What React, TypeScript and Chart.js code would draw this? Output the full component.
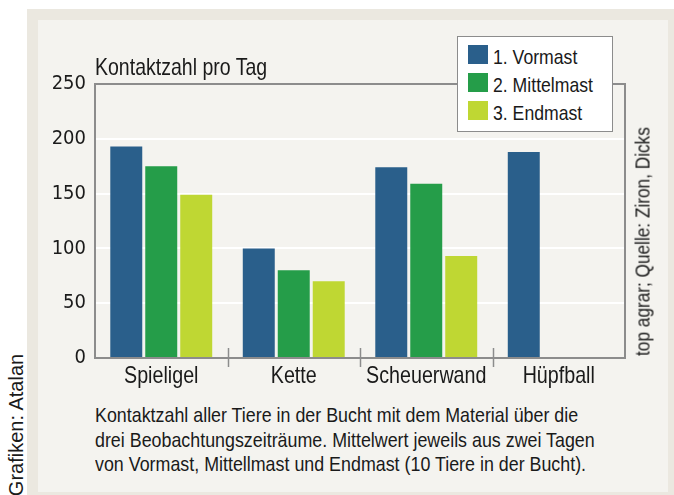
import React, { useEffect, useRef } from "react";
import { Chart, registerables } from "chart.js";

Chart.register(...registerables);

const CATEGORIES = ["Spieligel", "Kette", "Scheuerwand", "Hüpfball"];
const SERIES_LABELS = ["1. Vormast", "2. Mittelmast", "3. Endmast"];
const VORMAST = [193, 100, 174, 188];
const MITTELMAST = [175, 80, 159, null];
const ENDMAST = [149, 70, 93, null];
const Y_MIN = 0;
const Y_MAX = 250;
const Y_STEP = 50;
const COLORS = ["#2a5f8b", "#259d49", "#bfd733"];
const AXIS_TITLE = "Kontaktzahl pro Tag";
const CAPTION = [
  "Kontaktzahl aller Tiere in der Bucht mit dem Material über die",
  "drei Beobachtungszeiträume. Mittelwert jeweils aus zwei Tagen",
  "von Vormast, Mittellmast und Endmast (10 Tiere in der Bucht).",
];
const SOURCE = "top agrar; Quelle: Ziron, Dicks";
const CREDIT = "Grafiken: Atalan";

const SANS = "'Liberation Sans', Arial, sans-serif";
const COND = "'DejaVu Sans Condensed', 'DejaVu Sans', sans-serif";
const SQUEEZE = 0.82;
const TEXT = "#1a1a1a";
const BORDER = "#8c8c8c";

// Narrow rendering of Liberation Sans labels on the canvas (Helvetica Condensed look)
const narrowTextPlugin = {
  id: "narrowText",
  beforeDraw(chart: any) {
    const ctx = chart.ctx;
    if (ctx.__narrowPatched) return;
    const orig = ctx.fillText.bind(ctx);
    ctx.fillText = (t: string, x: number, y: number) => {
      if (String(ctx.font).indexOf("Liberation") >= 0) {
        ctx.save();
        ctx.translate(x, y);
        ctx.scale(SQUEEZE, 1);
        orig(t, 0, 0);
        ctx.restore();
      } else {
        orig(t, x, y);
      }
    };
    ctx.__narrowPatched = true;
  },
};

const framePlugin = {
  id: "frame",
  afterDraw(chart: any) {
    const { ctx, chartArea } = chart;
    const x = chart.scales.x;
    ctx.save();
    ctx.strokeStyle = BORDER;
    ctx.lineWidth = 2;
    ctx.strokeRect(chartArea.left, chartArea.top, chartArea.right - chartArea.left, chartArea.bottom - chartArea.top);
    ctx.lineWidth = 1.5;
    for (let i = 0; i < CATEGORIES.length - 1; i++) {
      const px = Math.round(x.getPixelForValue(i + 0.5)) + 0.5;
      ctx.beginPath();
      ctx.moveTo(px, chartArea.bottom - 10);
      ctx.lineTo(px, chartArea.bottom + 9);
      ctx.stroke();
    }
    ctx.restore();
  },
};

function Narrow({ children, size, lh, sx }: any) {
  return (
    <span
      style={{
        display: "inline-block",
        fontFamily: SANS,
        fontSize: size,
        lineHeight: (lh || size) + "px",
        transform: `scaleX(${sx || SQUEEZE})`,
        transformOrigin: "left center",
        whiteSpace: "nowrap",
        color: TEXT,
      }}
    >
      {children}
    </span>
  );
}

function VText({ text, cx, cy, size, sx }: any) {
  const w = 320;
  const h = size;
  return (
    <div
      style={{
        position: "absolute",
        left: cx - w / 2,
        top: cy - h / 2,
        width: w,
        height: h,
        lineHeight: h + "px",
        fontSize: size,
        fontFamily: SANS,
        color: TEXT,
        textAlign: "center",
        whiteSpace: "nowrap",
        transform: `rotate(-90deg) scaleX(${sx})`,
      }}
    >
      {text}
    </div>
  );
}

export default function App() {
  const ref = useRef<HTMLCanvasElement>(null);

  useEffect(() => {
    if (!ref.current) return;
    const data = [VORMAST, MITTELMAST, ENDMAST];
    const chart = new Chart(ref.current, {
      type: "bar",
      data: {
        labels: CATEGORIES,
        datasets: SERIES_LABELS.map((label, i) => ({
          label,
          data: data[i],
          backgroundColor: COLORS[i],
          borderWidth: 0,
          categoryPercentage: 0.792,
          barPercentage: 0.914,
        })),
      },
      options: {
        animation: false,
        responsive: false,
        maintainAspectRatio: false,
        layout: { padding: { left: 0, right: 43, top: 64, bottom: 0 } },
        plugins: {
          legend: { display: false },
          tooltip: { enabled: false },
          title: { display: false },
        },
        scales: {
          x: {
            afterFit: (s: any) => {
              s.height = 42;
            },
            grid: { display: false, drawTicks: false },
            border: { display: false },
            ticks: {
              padding: 4,
              color: TEXT,
              font: { family: SANS, size: 24 },
              maxRotation: 0,
              autoSkip: false,
            },
          },
          y: {
            min: Y_MIN,
            max: Y_MAX,
            afterFit: (s: any) => {
              s.width = 57;
            },
            grid: { color: "#ffffff", lineWidth: 2, drawTicks: false },
            border: { display: false },
            ticks: {
              stepSize: Y_STEP,
              padding: 9,
              color: TEXT,
              font: { family: COND, size: 20 },
            },
          },
        },
      },
      plugins: [narrowTextPlugin, framePlugin],
    });
    return () => chart.destroy();
  }, []);

  return (
    <div
      style={{
        position: "absolute",
        left: 0,
        top: 0,
        width: 674,
        height: 495,
        overflow: "hidden",
        background: "#ffffff",
      }}
    >
      <div style={{ position: "absolute", left: 27, top: 9, width: 647, height: 486, background: "#ebe8e0" }} />
      <div style={{ position: "absolute", left: 38, top: 20, width: 630, height: 472, background: "#f4f3ef" }} />
      <canvas
        ref={ref}
        width={630}
        height={380}
        style={{ position: "absolute", left: 38, top: 20, width: 630, height: 380 }}
      />
      <div style={{ position: "absolute", left: 95, top: 55 }}>
        <Narrow size={23.8} lh={23}>{AXIS_TITLE}</Narrow>
      </div>
      <div
        style={{
          position: "absolute",
          left: 457,
          top: 36,
          width: 156,
          height: 96,
          boxSizing: "border-box",
          background: "#ffffff",
          border: "1.5px solid " + BORDER,
        }}
      >
        {SERIES_LABELS.map((l, i) => (
          <div key={l} style={{ position: "absolute", left: 10, top: 8 + i * 28, height: 19, display: "flex" }}>
            <div style={{ width: 20, height: 19, background: COLORS[i] }} />
            <div style={{ marginLeft: 5, marginTop: 2 }}>
              <Narrow size={21} lh={19} sx={0.84}>{l}</Narrow>
            </div>
          </div>
        ))}
      </div>
      <div style={{ position: "absolute", left: 95, top: 403 }}>
        {CAPTION.map((c) => (
          <div key={c} style={{ height: 24.5 }}>
            <Narrow size={21} lh={24.5} sx={0.85}>{c}</Narrow>
          </div>
        ))}
      </div>
      <VText text={SOURCE} cx={642} cy={241} size={21} sx={SQUEEZE} />
      <VText text={CREDIT} cx={16} cy={425} size={20} sx={1} />
    </div>
  );
}
